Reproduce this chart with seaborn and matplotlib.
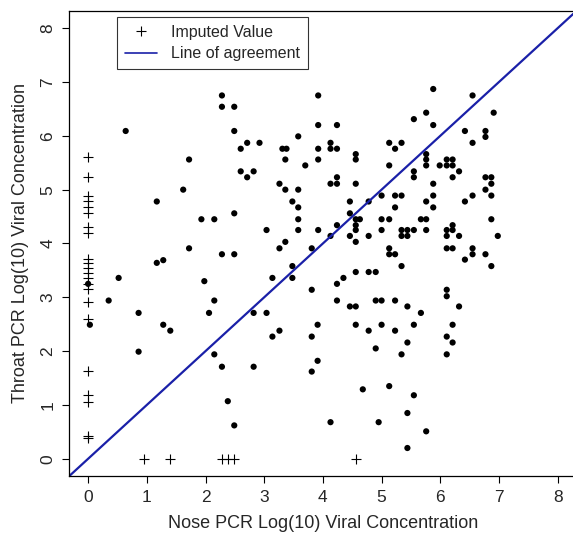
import numpy as np
import pandas as pd
import matplotlib
matplotlib.use("Agg")
import matplotlib.pyplot as plt
from matplotlib.lines import Line2D
import seaborn as sns

# Valores medidos (log10 de concentración viral): nariz vs garganta
nose = [2.28, 2.28, 2.49, 0.64, 2.49, 3.58, 2.60, 2.71, 2.92, 3.31, 3.38, 3.36, 1.72, 3.70,
        2.60, 2.82, 2.71, 1.62, 3.26, 3.36, 3.58, 1.17, 3.48, 3.58, 2.49, 1.93, 2.15, 3.58,
        3.04, 3.58, 1.72, 3.26, 3.36, 3.81,
        3.92, 5.88, 6.55, 5.76, 5.55, 6.91, 3.92, 4.24, 5.88, 6.42, 6.77, 6.77, 6.55, 5.13,
        5.34, 5.23, 3.92, 4.13, 4.13, 4.24, 3.92, 4.56, 4.56, 5.76, 5.76, 5.76, 5.13, 5.99,
        6.11, 6.21, 6.11, 6.21, 6.32, 5.55, 5.55, 6.21, 6.77, 6.87, 6.87, 6.77, 4.13, 4.24,
        4.24, 4.56, 5.88, 5.00, 5.23, 5.34, 5.88, 6.55, 6.87, 6.42, 5.76, 5.88, 5.23, 4.78,
        4.46, 4.46, 4.56, 4.63, 5.00, 5.13, 5.67, 5.76, 6.87, 3.92, 4.24, 4.56, 4.56, 5.00,
        5.34, 5.44, 5.55, 5.34, 5.44, 5.76, 6.11, 6.21, 6.21, 6.11, 6.32, 6.98, 4.13, 4.46,
        4.78, 4.56, 5.13, 6.11, 6.21, 6.55,
        2.28, 2.49, 1.17, 1.28, 0.52, 0.00, 1.98, 3.14, 3.48, 3.48, 3.81, 0.35, 2.15, 0.86,
        2.06, 2.82, 3.04, 0.03, 1.28, 1.40, 3.14, 3.26, 3.81, 3.91, 0.86, 2.15, 2.28, 2.82,
        3.81, 3.91, 2.38, 2.49,
        5.13, 5.23, 6.55, 6.42, 6.77, 6.87, 5.34, 4.56, 4.78, 4.90, 4.35, 4.24, 4.24, 4.46,
        4.56, 4.90, 5.00, 5.23, 5.44, 5.67, 6.11, 6.11, 6.32, 4.56, 5.00, 5.55, 6.21, 4.78,
        5.23, 6.11, 5.44, 6.21, 4.90, 5.34, 6.11, 4.68, 5.13, 5.55, 5.44, 4.13, 4.95, 5.76,
        5.44]
throat = [6.75, 6.54, 6.54, 6.09, 6.09, 5.99, 5.76, 5.87, 5.87, 5.76, 5.76, 5.56, 5.56, 5.45,
          5.34, 5.34, 5.23, 5.00, 5.11, 5.00, 5.00, 4.78, 4.78, 4.67, 4.56, 4.45, 4.45, 4.45,
          4.25, 4.25, 3.91, 3.91, 4.03, 3.91,
          6.75, 6.87, 6.75, 6.43, 6.31, 6.43, 6.20, 6.20, 6.20, 6.09, 6.09, 5.98, 5.87, 5.87,
          5.87, 5.76, 5.76, 5.87, 5.76, 5.76, 5.56, 5.66, 5.56, 5.66, 5.56, 5.45, 5.45, 5.45,
          5.56, 5.56, 5.45, 5.45, 5.34, 5.34, 5.23, 5.23, 5.23, 5.23, 5.11, 5.00, 5.11, 5.11,
          5.23, 5.11, 5.11, 4.89, 4.89, 4.89, 4.89, 4.89, 4.89, 4.78, 4.78, 4.67, 4.67, 4.78,
          4.78, 4.56, 4.45, 4.45, 4.45, 4.45, 4.45, 4.45, 4.45, 4.25, 4.34, 4.34, 4.25, 4.25,
          4.25, 4.25, 4.25, 4.14, 4.14, 4.25, 4.25, 4.34, 4.25, 4.14, 4.14, 4.14, 4.14, 4.14,
          4.14, 4.03, 3.91, 3.91, 3.91, 3.91,
          3.80, 3.80, 3.64, 3.69, 3.36, 3.25, 3.30, 3.36, 3.58, 3.36, 3.14, 2.94, 2.94, 2.71,
          2.71, 2.71, 2.71, 2.49, 2.49, 2.38, 2.27, 2.38, 2.27, 2.49, 1.99, 1.94, 1.71, 1.71,
          1.62, 1.82, 1.07, 0.62,
          3.80, 3.80, 3.80, 3.70, 3.80, 3.58, 3.58, 3.47, 3.47, 3.47, 3.36, 3.25, 2.94, 2.83,
          2.83, 2.94, 2.94, 2.94, 2.83, 2.71, 3.14, 3.02, 2.83, 2.49, 2.49, 2.49, 2.49, 2.38,
          2.38, 2.27, 2.16, 2.16, 2.05, 1.94, 1.94, 1.29, 1.35, 1.18, 0.85, 0.68, 0.68, 0.51,
          0.20]

# Valores imputados (por debajo del límite de detección)
imp_nose = [0] * 22 + [0.96, 1.40, 2.28, 2.38, 2.49, 4.56]
imp_throat = [5.60, 5.23, 4.89, 4.78, 4.67, 4.56, 4.30, 4.19, 3.72, 3.63, 3.54, 3.45, 3.35,
              3.25, 3.15, 2.92, 2.60, 1.63, 1.19, 1.06, 0.42, 0.38] + [0] * 6

ticks = [0, 1, 2, 3, 4, 5, 6, 7, 8]

df = pd.DataFrame({"nose": nose, "throat": throat})
df_imp = pd.DataFrame({"nose": imp_nose, "throat": imp_throat})

sns.set_theme(style="white")
plt.rcParams["font.family"] = ["Liberation Sans", "DejaVu Sans"]

fig = plt.figure(figsize=(5.73, 5.37), dpi=100)
ax = fig.add_axes([0.121, 0.1136, 0.885, 0.866])

sns.scatterplot(data=df, x="nose", y="throat", ax=ax, color="black", s=20,
                edgecolor="none", linewidth=0)
sns.scatterplot(data=df_imp, x="nose", y="throat", ax=ax, color="black", marker="+",
                s=50, linewidth=0.8)

linea = "#1a20a8"
ax.axline((0, 0), slope=1, color=linea, linewidth=1.6, zorder=1)

ax.set_xlim(-0.32, 8.32)
ax.set_ylim(-0.32, 8.32)
ax.set_xticks(ticks)
ax.set_yticks(ticks)
ax.set_xlabel("Nose PCR Log(10) Viral Concentration", fontsize=13, labelpad=7)
ax.set_ylabel("Throat PCR Log(10) Viral Concentration", fontsize=13, labelpad=8)
ax.tick_params(axis="both", direction="out", length=5, width=0.8, color="black",
               labelsize=12.5, pad=5, bottom=True, left=True)
for lab in ax.get_yticklabels():
    lab.set_rotation(90)
    lab.set_va("center")

for sp in ax.spines.values():
    sp.set_color("black")
    sp.set_linewidth(0.9)

handles = [Line2D([], [], color="black", marker="+", linestyle="none", markersize=7.5,
                  markeredgewidth=0.8),
           Line2D([], [], color=linea, linewidth=1.2)]
leg = ax.legend(handles, ["Imputed Value", "Line of agreement"], loc="upper left",
                bbox_to_anchor=(0.094, 0.987), borderaxespad=0, fontsize=11.5,
                frameon=True, fancybox=False, edgecolor="black", handlelength=2,
                handletextpad=0.9, borderpad=0.5, labelspacing=0.4)
leg.get_frame().set_linewidth(0.8)

plt.savefig("out.png", dpi=100)
